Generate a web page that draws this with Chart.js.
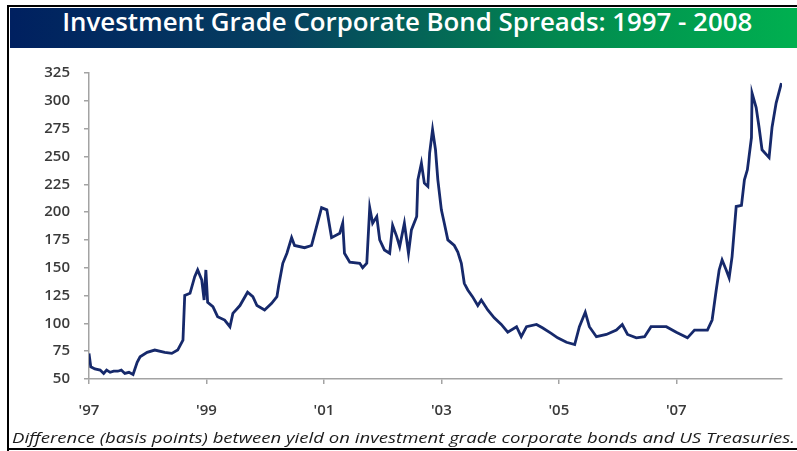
<!DOCTYPE html>
<html>
<head>
<meta charset="utf-8">
<script src="https://cdn.jsdelivr.net/npm/chart.js@4.4.1/dist/chart.umd.min.js"></script>
<style>
  html, body { margin: 0; padding: 0; background: #fff; }
  #wrap { position: relative; width: 797px; height: 451px; overflow: hidden; background: #fff; }
  .frame { position: absolute; background: #000; }
  #banner {
    position: absolute; left: 10px; top: 8px; width: 787px; height: 40px;
    background: linear-gradient(to right, #002060 0%, #06405f 35%, #02894f 70%, #00b050 100%);
  }
  #title {
    position: absolute; left: 14px; top: 5px; width: 787px; text-align: center;
    font-family: "Open Sans", sans-serif; font-weight: 600; font-size: 26px;
    color: #fff; white-space: nowrap; line-height: 32px;
  }
  #caption {
    position: absolute; left: 12px; top: 427px; white-space: nowrap;
    font-family: "Open Sans", sans-serif; font-style: italic; font-size: 15px;
    color: #1c1c1c; line-height: 20px;
  }
  .fit { display: inline-block; transform-origin: left center; }
  #titleText { transform-origin: center center; }
  canvas { position: absolute; left: 10px; top: 50px; }
</style>
</head>
<body>
<div id="wrap">
  <div class="frame" style="left:7px;top:5px;width:790px;height:2px;"></div>
  <div class="frame" style="left:7px;top:5px;width:2px;height:446px;"></div>
  <div class="frame" style="left:7px;top:448px;width:790px;height:2px;"></div>
  <div id="banner"></div>
  <div id="title"><span class="fit" id="titleText">Investment Grade Corporate Bond Spreads: 1997 - 2008</span></div>
  <canvas id="spreadChart" width="787" height="382"></canvas>
  <div id="caption"><span class="fit" id="captionText">Difference (basis points) between yield on investment grade corporate bonds and US Treasuries.</span></div>
</div>
<script>
// Datas (anos decimais) e spreads em pontos-base
const years = [
  1997.00, 1997.03, 1997.10, 1997.19, 1997.25, 1997.30, 1997.36, 1997.42, 1997.49, 1997.55,
  1997.61, 1997.68, 1997.75, 1997.82, 1997.87, 1997.99,
  1998.12, 1998.29, 1998.41, 1998.51, 1998.60, 1998.63, 1998.72, 1998.80, 1998.85, 1998.92,
  1998.96, 1998.99, 1999.02, 1999.11, 1999.19, 1999.31, 1999.40, 1999.45, 1999.57, 1999.70,
  1999.79, 1999.86, 1999.99, 2000.11, 2000.20, 2000.23, 2000.30, 2000.37, 2000.45, 2000.50,
  2000.67, 2000.79, 2000.88, 2000.96, 2001.05, 2001.13, 2001.27, 2001.32, 2001.35, 2001.44,
  2001.61, 2001.66, 2001.73, 2001.78, 2001.83, 2001.90, 2001.95, 2002.03, 2002.12, 2002.17,
  2002.24, 2002.29, 2002.37, 2002.44, 2002.49, 2002.58, 2002.60, 2002.66, 2002.71, 2002.77,
  2002.80, 2002.85, 2002.90, 2002.94, 2003.00, 2003.05, 2003.11, 2003.22, 2003.28, 2003.34,
  2003.39, 2003.45, 2003.53, 2003.62, 2003.68, 2003.79, 2003.90, 2004.02, 2004.13, 2004.28,
  2004.36, 2004.45, 2004.62, 2004.72, 2004.87, 2004.98, 2005.13, 2005.27, 2005.35, 2005.45,
  2005.52, 2005.64, 2005.81, 2005.98, 2006.08, 2006.17, 2006.32, 2006.46, 2006.57, 2006.83,
  2007.00, 2007.19, 2007.31, 2007.53, 2007.61, 2007.68, 2007.73, 2007.78, 2007.85, 2007.90,
  2007.95, 2008.02, 2008.11, 2008.16, 2008.21, 2008.28, 2008.29, 2008.36, 2008.41, 2008.46,
  2008.58, 2008.63, 2008.70, 2008.79
];
const spreads = [
  73, 61, 59, 58, 55, 58, 56, 57, 57, 58,
  55, 56, 54, 65, 70, 74,
  76, 74, 73, 76, 85, 125, 127, 142, 148, 139,
  121, 148, 119, 115, 106, 103, 97, 109, 116, 128,
  124, 116, 112, 118, 124, 134, 154, 163, 177, 170,
  168, 170, 188, 204, 202, 177, 181, 190, 163, 155,
  154, 150, 154, 204, 190, 196, 175, 166, 163, 188,
  178, 169, 190, 163, 184, 196, 229, 244, 226, 223,
  253, 274, 256, 229, 202, 190, 175, 170, 164, 154,
  136, 130, 124, 116, 121, 112, 105, 99, 92, 97,
  88, 97, 99, 96, 91, 87, 83, 81, 97, 110,
  97, 88, 90, 94, 99, 90, 87, 88, 97, 97,
  92, 87, 94, 94, 103, 130, 148, 157, 148, 141,
  160, 205, 206, 229, 238, 267, 307, 294, 276, 256,
  249, 276, 298, 316
];
const tickYears = [1997, 1999, 2001, 2003, 2005, 2007];
const yTicks = [50, 75, 100, 125, 150, 175, 200, 225, 250, 275, 300, 325];

// ajusta a largura do texto html ao tamanho da imagem original
function fitText(id, target) {
  const el = document.getElementById(id);
  const w = el.getBoundingClientRect().width;
  el.style.transform = 'scaleX(' + (target / w) + ')';
}

function createChart() {
  const ctx = document.getElementById('spreadChart').getContext('2d');
  const points = years.map((y, i) => ({ x: y, y: spreads[i] }));
  const axisColor = '#a3a3a3';
  const tickFont = { family: '"Open Sans", sans-serif', size: 15, weight: '600' };

  new Chart(ctx, {
    type: 'line',
    data: {
      datasets: [{
        data: points,
        borderColor: '#16296b',
        borderWidth: 2.8,
        pointRadius: 0,
        tension: 0,
        fill: false
      }]
    },
    options: {
      responsive: false,
      animation: false,
      devicePixelRatio: 1,
      layout: { padding: { top: 23, right: 15, left: 0, bottom: 0 } },
      plugins: { legend: { display: false }, tooltip: { enabled: false } },
      scales: {
        x: {
          type: 'linear',
          min: 1997,
          max: 2008.8,
          afterBuildTicks: s => { s.ticks = tickYears.map(v => ({ value: v })); },
          afterFit: s => { s.height = 53; },
          grid: { drawOnChartArea: false, drawTicks: true, tickLength: 5, color: axisColor, lineWidth: 1.5 },
          border: { color: axisColor, width: 1.5 },
          ticks: {
            padding: 18,
            color: '#3a3a3a',
            font: tickFont,
            maxRotation: 0,
            callback: v => "'" + String(v).slice(2)
          }
        },
        y: {
          min: 50,
          max: 325,
          afterBuildTicks: s => { s.ticks = yTicks.map(v => ({ value: v })); },
          afterFit: s => { s.width = 79; },
          grid: { drawOnChartArea: false, drawTicks: true, tickLength: 5, color: axisColor, lineWidth: 1.5 },
          border: { color: axisColor, width: 1.5 },
          ticks: { padding: 14, color: '#3a3a3a', font: tickFont }
        }
      }
    }
  });
}

document.fonts.ready.then(() => {
  fitText('titleText', 690);
  fitText('captionText', 783);
  createChart();
});
</script>
</body>
</html>
